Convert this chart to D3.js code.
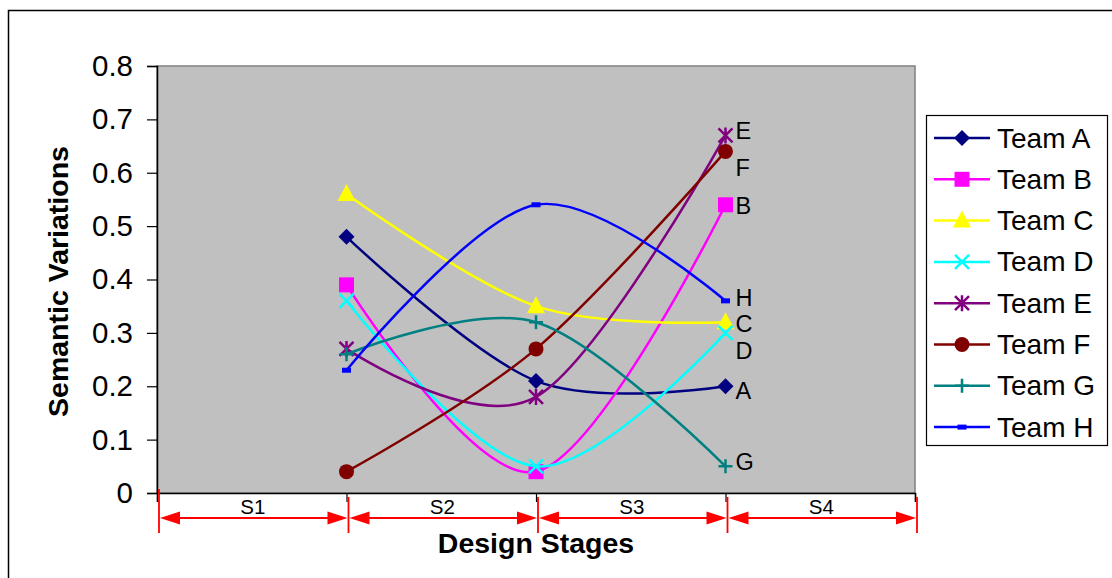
<!DOCTYPE html>
<html>
<head>
<meta charset="utf-8">
<script src="https://cdn.jsdelivr.net/npm/d3@7"></script>
<style>
  html, body { margin: 0; padding: 0; background: #fff; }
  svg { display: block; font-family: Arial, "Liberation Sans", sans-serif; }
</style>
</head>
<body>
<svg id="chart" width="1112" height="578"></svg>
<script>
// Design stages (category bands along the x axis)
const stages = ["S1", "S2", "S3", "S4"];
// Stage boundaries where team measurements were taken
const measurePoints = [1, 2, 3];
const teams = ["Team A", "Team B", "Team C", "Team D", "Team E", "Team F", "Team G", "Team H"];
const endLabels = ["A", "B", "C", "D", "E", "F", "G", "H"];

// Semantic variation per team at each measurement point
const teamA = [0.48, 0.21, 0.20];
const teamB = [0.39, 0.04, 0.54];
const teamC = [0.56, 0.35, 0.32];
const teamD = [0.36, 0.05, 0.30];
const teamE = [0.27, 0.18, 0.67];
const teamF = [0.04, 0.27, 0.64];
const teamG = [0.26, 0.32, 0.05];
const teamH = [0.23, 0.54, 0.36];

const yTicks = [0, 0.1, 0.2, 0.3, 0.4, 0.5, 0.6, 0.7, 0.8];

const seriesValues = [teamA, teamB, teamC, teamD, teamE, teamF, teamG, teamH];
const colors = ["#000080", "#FF00FF", "#FFFF00", "#00FFFF", "#800080", "#800000", "#008080", "#0000FF"];
const markers = ["diamond", "square", "triangle", "x", "star", "circle", "plus", "dash"];
// vertical nudges for the end-of-line letters so they do not collide
const labelNudge = [4, 1, 1, 18, -5, 16, -5, -3];

const svg = d3.select("#chart");
const plot = { left: 157, top: 66, right: 915, bottom: 493 };

// outer frame
svg.append("rect").attr("x", 8.5).attr("y", 10.5).attr("width", 1200).attr("height", 700)
  .attr("fill", "#fff").attr("stroke", "#000").attr("stroke-width", 1.5);

const x = d3.scaleLinear().domain([0, stages.length]).range([plot.left, plot.right]);
const y = d3.scaleLinear().domain([0, 0.8]).range([plot.bottom, plot.top]);

// plot area
svg.append("rect")
  .attr("x", plot.left).attr("y", plot.top)
  .attr("width", plot.right - plot.left).attr("height", plot.bottom - plot.top)
  .attr("fill", "#C0C0C0").attr("stroke", "#808080").attr("stroke-width", 1.5);

// y axis
const yAxis = d3.axisLeft(y).tickValues(yTicks).tickSize(10).tickPadding(14)
  .tickFormat(d => d === 0 ? "0" : d3.format(".1f")(d));
const gy = svg.append("g").attr("transform", `translate(${plot.left},0)`).call(yAxis);
gy.select(".domain").attr("stroke", "#000").attr("stroke-width", 1.5);
gy.selectAll(".tick line").attr("stroke", "#000").attr("stroke-width", 1.2);
gy.selectAll(".tick text").attr("font-size", 29.5).attr("fill", "#000")
  .attr("font-family", "Arial, 'Liberation Sans', sans-serif");

// x axis (ticks at stage boundaries, no labels)
const xAxis = d3.axisBottom(x).tickValues(d3.range(stages.length + 1)).tickSize(9).tickFormat("");
const gx = svg.append("g").attr("transform", `translate(0,${plot.bottom})`).call(xAxis);
gx.select(".domain").attr("stroke", "#000").attr("stroke-width", 1.5);
gx.selectAll(".tick line").attr("stroke", "#000").attr("stroke-width", 1.2);

// axis titles
svg.append("text")
  .attr("transform", `translate(68,${(plot.top + plot.bottom) / 2 + 2}) rotate(-90)`)
  .attr("text-anchor", "middle").attr("font-size", 28.5).attr("font-weight", "bold")
  .text("Semantic Variations");
svg.append("text")
  .attr("x", 536).attr("y", 553)
  .attr("text-anchor", "middle").attr("font-size", 28.5).attr("font-weight", "bold")
  .text("Design Stages");

// stage span arrows
const arrowY = 518;
const red = "#FF0000";
const ann = svg.append("g");
d3.range(stages.length + 1).forEach(i => {
  const bx = x(i) + 2;
  ann.append("line").attr("x1", bx).attr("x2", bx)
    .attr("y1", i === 0 ? 489 : 497).attr("y2", 533)
    .attr("stroke", red).attr("stroke-width", 1.8);
});
stages.forEach((s, i) => {
  const x0 = x(i) + 2, x1 = x(i + 1) + 2;
  ann.append("line").attr("x1", x0 + 4).attr("x2", x1 - 4)
    .attr("y1", arrowY).attr("y2", arrowY)
    .attr("stroke", red).attr("stroke-width", 2);
  ann.append("path")
    .attr("d", `M${x0 + 1},${arrowY} L${x0 + 21},${arrowY - 6.5} L${x0 + 21},${arrowY + 6.5} Z`)
    .attr("fill", red);
  ann.append("path")
    .attr("d", `M${x1 - 1},${arrowY} L${x1 - 21},${arrowY - 6.5} L${x1 - 21},${arrowY + 6.5} Z`)
    .attr("fill", red);
  ann.append("text").attr("x", x(i + 0.5) + 1).attr("y", 514)
    .attr("text-anchor", "middle").attr("font-size", 20.5).attr("fill", "#000").text(s);
});

// marker drawing
function drawMarker(g, type, cx, cy, color) {
  switch (type) {
    case "diamond":
      g.append("path").attr("d", `M${cx},${cy - 8} L${cx + 8},${cy} L${cx},${cy + 8} L${cx - 8},${cy} Z`)
        .attr("fill", color);
      break;
    case "square":
      g.append("rect").attr("x", cx - 7.5).attr("y", cy - 7.5).attr("width", 15).attr("height", 15)
        .attr("fill", color);
      break;
    case "triangle":
      g.append("path").attr("d", `M${cx},${cy - 10} L${cx + 9},${cy + 7} L${cx - 9},${cy + 7} Z`)
        .attr("fill", color);
      break;
    case "circle":
      g.append("circle").attr("cx", cx).attr("cy", cy).attr("r", 7.5).attr("fill", color);
      break;
    case "x":
      g.append("path").attr("d", `M${cx - 7},${cy - 7} L${cx + 7},${cy + 7} M${cx - 7},${cy + 7} L${cx + 7},${cy - 7}`)
        .attr("stroke", color).attr("stroke-width", 2.5).attr("fill", "none");
      break;
    case "star":
      g.append("path").attr("d", `M${cx - 7},${cy - 7} L${cx + 7},${cy + 7} M${cx - 7},${cy + 7} L${cx + 7},${cy - 7} M${cx},${cy - 8} L${cx},${cy + 8}`)
        .attr("stroke", color).attr("stroke-width", 2.5).attr("fill", "none");
      break;
    case "plus":
      g.append("path").attr("d", `M${cx - 7},${cy} L${cx + 7},${cy} M${cx},${cy - 7} L${cx},${cy + 7}`)
        .attr("stroke", color).attr("stroke-width", 2.5).attr("fill", "none");
      break;
    case "dash":
      g.append("rect").attr("x", cx - 4.5).attr("y", cy - 2.5).attr("width", 9).attr("height", 5)
        .attr("fill", color);
      break;
  }
}

// series lines (smoothed) and markers
const line = d3.line()
  .x(d => x(d[0])).y(d => y(d[1]))
  .curve(d3.curveCardinal.tension(0));

const seriesG = svg.append("g");
seriesValues.forEach((vals, si) => {
  const pts = vals.map((v, i) => [measurePoints[i], v]);
  const g = seriesG.append("g");
  g.append("path").attr("d", line(pts))
    .attr("fill", "none").attr("stroke", colors[si]).attr("stroke-width", 2.5);
  pts.forEach(p => drawMarker(g, markers[si], x(p[0]), y(p[1]), colors[si]));
});

// end-of-line letters
seriesValues.forEach((vals, si) => {
  const last = vals[vals.length - 1];
  svg.append("text")
    .attr("x", x(measurePoints[measurePoints.length - 1]) + 10)
    .attr("y", y(last) + labelNudge[si] + 8.5)
    .attr("font-size", 23.5).attr("fill", "#000")
    .text(endLabels[si]);
});

// legend
const leg = svg.append("g");
leg.append("rect").attr("x", 926.5).attr("y", 115.5).attr("width", 181).attr("height", 330)
  .attr("fill", "#fff").attr("stroke", "#000").attr("stroke-width", 1.2);
teams.forEach((t, i) => {
  const ly = 138 + i * 41.3;
  leg.append("line").attr("x1", 934).attr("x2", 990).attr("y1", ly).attr("y2", ly)
    .attr("stroke", colors[i]).attr("stroke-width", 2.5);
  drawMarker(leg, markers[i], 962, ly, colors[i]);
  leg.append("text").attr("x", 997).attr("y", ly + 9.5)
    .attr("font-size", 28).attr("fill", "#000").text(t);
});
</script>
</body>
</html>
